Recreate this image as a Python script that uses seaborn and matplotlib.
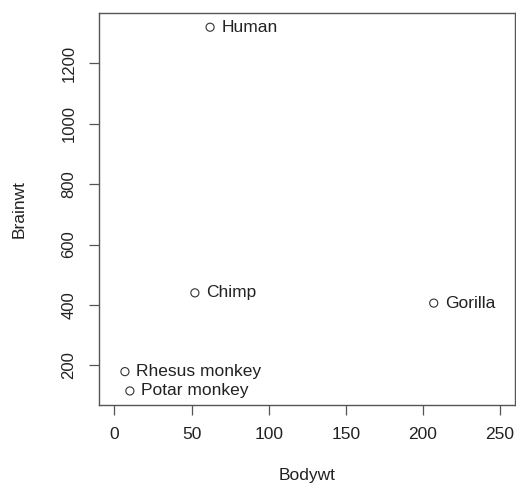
import matplotlib
matplotlib.use("Agg")
import matplotlib.pyplot as plt
import seaborn as sns
import pandas as pd

# Primate body weight (kg) vs brain weight (g)
species = ["Human", "Chimp", "Gorilla", "Rhesus monkey", "Potar monkey"]
bodywt = [62.0, 52.16, 207.0, 6.8, 10.0]
brainwt = [1320.0, 440.0, 406.0, 179.0, 115.0]

x_ticks = [0, 50, 100, 150, 200, 250]
y_ticks = [200, 400, 600, 800, 1000, 1200]

df = pd.DataFrame({"Bodywt": bodywt, "Brainwt": brainwt, "species": species})

sns.set_theme(style="white")
plt.rcParams["font.family"] = ["Liberation Sans", "DejaVu Sans"]

ink = "#222222"
frame = "#555555"

fig = plt.figure(figsize=(5.16, 4.84), dpi=100)
ax = fig.add_axes([0.1919, 0.1622, 0.999 - 0.1919, 0.9738 - 0.1622])

sns.scatterplot(data=df, x="Bodywt", y="Brainwt", ax=ax, marker="o", s=34,
                color=ink, linewidth=0.8, legend=False)
for coll in ax.collections:
    coll.set_facecolor("none")
    coll.set_edgecolor("#333333")

for name, bx, by in zip(df["species"], df["Bodywt"], df["Brainwt"]):
    ax.annotate(name, (bx, by), xytext=(8.3, 0), textcoords="offset points",
                ha="left", va="center", fontsize=12.5, color=ink)

# R-style default limits: data range padded by 4%
x_lo, x_hi = 0, 250
xpad = 0.04 * (x_hi - x_lo)
ax.set_xlim(x_lo - xpad, x_hi + xpad)
ypad = 0.04 * (max(brainwt) - min(brainwt))
ax.set_ylim(min(brainwt) - ypad, max(brainwt) + ypad)

ax.set_xticks(x_ticks)
ax.set_yticks(y_ticks)
ax.set_xticklabels([str(t) for t in x_ticks])
ax.set_yticklabels([str(t) for t in y_ticks])

ax.tick_params(axis="both", direction="out", length=7.2, width=0.9,
               color=frame, labelcolor=ink, bottom=True, left=True)
ax.tick_params(axis="x", pad=8.5, labelsize=12.5)
ax.tick_params(axis="y", pad=9.0, labelsize=12, labelrotation=90)
for lab in ax.get_yticklabels():
    lab.set_va("center")

for side in ["left", "right", "top", "bottom"]:
    ax.spines[side].set_visible(True)
    ax.spines[side].set_color(frame)
    ax.spines[side].set_linewidth(1.0)

ax.set_xlabel("Bodywt", fontsize=12.5, color=ink)
ax.set_ylabel("Brainwt", fontsize=12.5, color=ink)
ax.xaxis.label.set_va("center")
ax.yaxis.label.set_va("center")
ax.xaxis.set_label_coords(0.5, -0.178)
ax.yaxis.set_label_coords(-0.192, 0.5)

ax.grid(False)
fig.savefig("out.png", dpi=100, facecolor="white")
